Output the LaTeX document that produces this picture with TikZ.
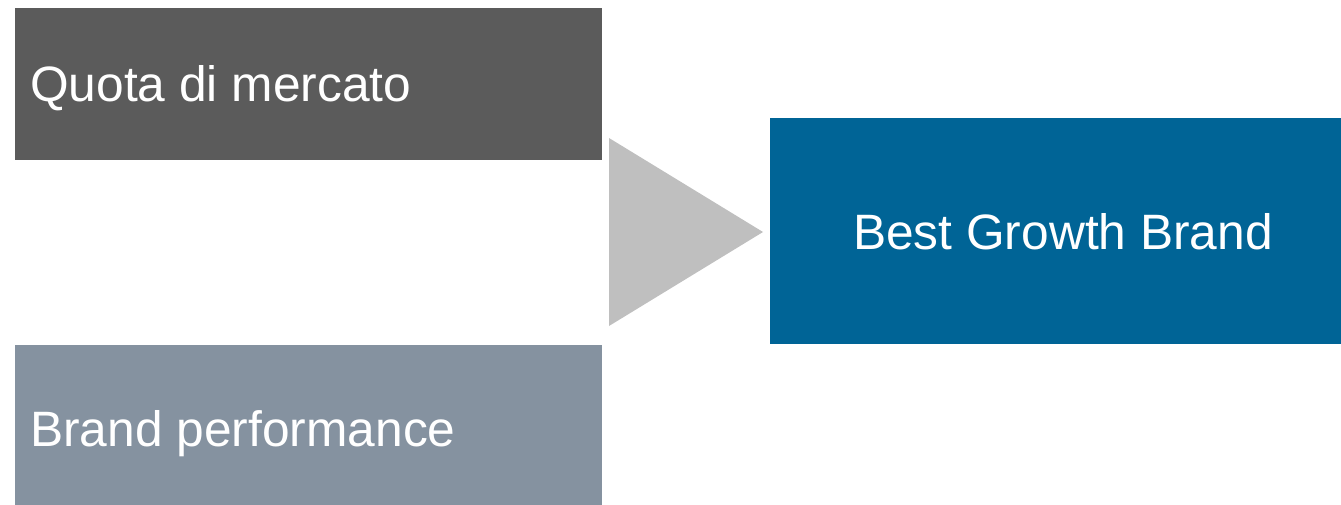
\documentclass[tikz,border=0pt]{standalone}
\usepackage{fontspec}
\setmainfont{Liberation Sans}
\definecolor{boxdark}{HTML}{5B5B5B}
\definecolor{boxslate}{HTML}{8592A0}
\definecolor{arrowgray}{HTML}{BFBFBF}
\definecolor{boxblue}{HTML}{006496}
\tikzset{
  panel/.style={inner sep=0pt, outer sep=0pt},
  label/.style={text=white, font=\fontsize{49.7}{58}\selectfont, inner sep=0pt}
}
\begin{document}
\begin{tikzpicture}[x=1pt,y=-1pt]
\useasboundingbox (0,0) rectangle (1341,505);
% panels
\fill[boxdark] (15,8) rectangle (602,160);
\fill[boxslate] (15,345) rectangle (602,505);
\fill[boxblue] (770,118) rectangle (1341,344);
% arrow triangle
\fill[arrowgray] (609,138) -- (763,232) -- (609,326) -- cycle;
% texts
\node[label, anchor=base west] (quota) at (30,102) {Quota di mercato};
\node[label, anchor=base west] (perf) at (30,446) {Brand performance};
\node[label, anchor=base] (best) at (1063,249) {Best Growth Brand};
\end{tikzpicture}
\end{document}
